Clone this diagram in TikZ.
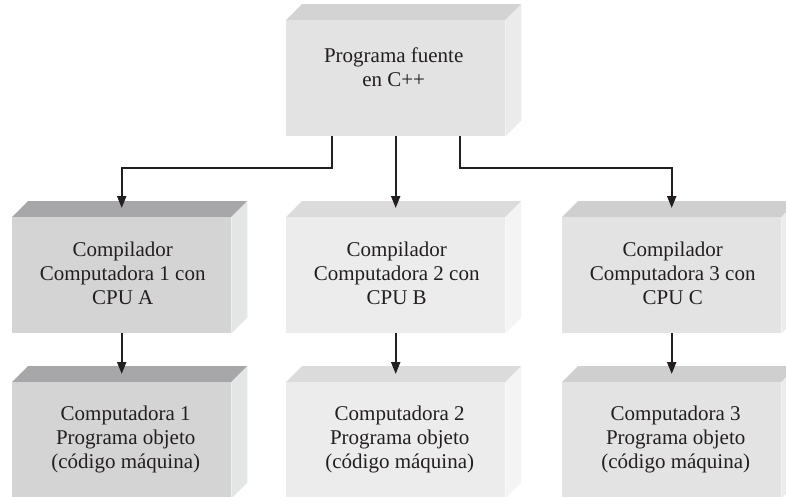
\documentclass[tikz,border=0pt]{standalone}
\usepackage{fontspec}
\setmainfont{Liberation Serif}
\usetikzlibrary{calc,arrows.meta}
\definecolor{lineC}{HTML}{231F20}
\definecolor{aF}{HTML}{D4D4D5}\definecolor{aT}{HTML}{A7A7A9}\definecolor{aS}{HTML}{E4E5E5}
\definecolor{bF}{HTML}{ECECED}\definecolor{bT}{HTML}{DBDBDC}\definecolor{bS}{HTML}{F4F4F4}
\definecolor{cF}{HTML}{E3E3E4}\definecolor{cT}{HTML}{CFCFD0}\definecolor{cS}{HTML}{ECECEC}
\definecolor{tF}{HTML}{E3E3E4}\definecolor{tT}{HTML}{D3D3D4}\definecolor{tS}{HTML}{EBEBEC}
\tikzset{
  block/.style={minimum width=219pt, minimum height=116pt, inner sep=0pt, anchor=north west},
  label text/.style={inner sep=0pt, align=center, font=\fontsize{21}{24}\selectfont, text=lineC},
  arr/.style={draw=lineC, line width=2pt, -{Triangle[length=12pt,width=9pt]}},
}
\newcommand\faces[4]{%
  \fill[#3] (#1.north west) -- ++(16pt,16pt) -- ($(#1.north east)+(16pt,16pt)$) -- (#1.north east) -- cycle;
  \fill[#4] (#1.north east) -- ++(16pt,16pt) -- ($(#1.south east)+(16pt,16pt)$) -- (#1.south east) -- cycle;
  \fill[#2] (#1.north west) rectangle (#1.south east);
}
\begin{document}
\begin{tikzpicture}[x=1pt,y=-1pt]
\path[use as bounding box] (0,0) rectangle (786,496);
\clip (0,0) rectangle (786,496);
% front faces
\node[block] (top) at (286,20) {};
\node[block] (c1) at (12,217) {};
\node[block] (c2) at (286,217) {};
\node[block] (c3) at (562,217) {};
\node[block] (o1) at (12,382) {};
\node[block] (o2) at (286,382) {};
\node[block] (o3) at (562,382) {};
\faces{top}{tF}{tT}{tS}
\faces{c1}{aF}{aT}{aS}
\faces{c2}{bF}{bT}{bS}
\faces{c3}{cF}{cT}{cS}
\faces{o1}{aF}{aT}{aS}
\faces{o2}{bF}{bT}{bS}
\faces{o3}{cF}{cT}{cS}
% texts
\node[label text] (ttop) at ($(top.center)+(-2pt,11pt)$) {Programa fuente\\en C++};
\node[label text] (tc1) at ($(c1.center)+(1pt,2pt)$) {Compilador\\Computadora 1 con\\CPU A};
\node[label text] (tc2) at ($(c2.center)+(1pt,2pt)$) {Compilador\\Computadora 2 con\\CPU B};
\node[label text] (tc3) at ($(c3.center)+(1pt,2pt)$) {Compilador\\Computadora 3 con\\CPU C};
\node[label text] (to1) at ($(o1.center)+(4pt,1pt)$) {Computadora 1\\Programa objeto\\(código máquina)};
\node[label text] (to2) at ($(o2.center)+(4pt,1pt)$) {Computadora 2\\Programa objeto\\(código máquina)};
\node[label text] (to3) at ($(o3.center)+(4pt,1pt)$) {Computadora 3\\Programa objeto\\(código máquina)};
% connectors
\coordinate (jl) at ($(top.south west)+(46pt,0)$);
\coordinate (jr) at ($(top.south east)+(-45pt,0)$);
\draw[arr] (jl) -- ++(0,-32pt) -| ($(c1.north)+(0,9pt)$);
\draw[arr] (top.south) -- ($(c2.north)+(0,9pt)$);
\draw[arr] (jr) -- ++(0,-32pt) -| ($(c3.north)+(0,9pt)$);
\draw[arr] (c1.south) -- ($(o1.north)+(0,8pt)$);
\draw[arr] (c2.south) -- ($(o2.north)+(0,8pt)$);
\draw[arr] (c3.south) -- ($(o3.north)+(0,8pt)$);
\end{tikzpicture}
\end{document}
